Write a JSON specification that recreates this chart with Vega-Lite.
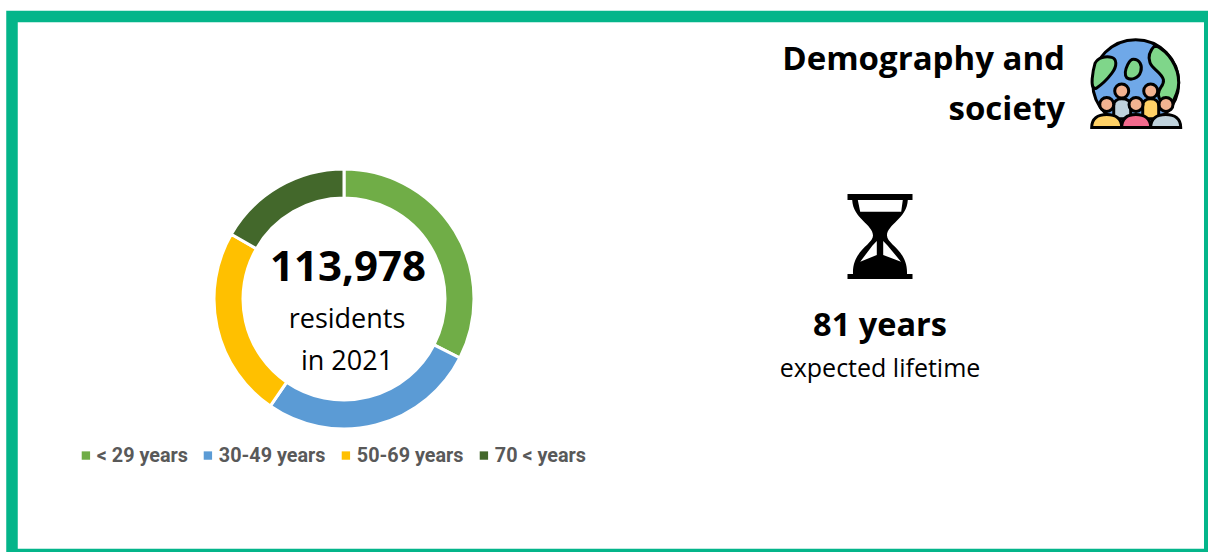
{
  "$schema": "https://vega.github.io/schema/vega-lite/v6.json",
  "width": 1197.75,
  "height": 538,
  "autosize": "none",
  "padding": {"left": 12, "top": 16.5, "right": -2, "bottom": -2.5},
  "background": "#ffffff",
  "config": {"view": {"stroke": "#04B58A", "strokeWidth": 11.5, "fill": "#ffffff"}},
  "encoding": {
    "x": {"field": "block", "type": "nominal", "axis": null, "scale": {"domain": ["population", "lifetime"], "range": [332, 868], "padding": 0}},
    "y": {"field": "block", "type": "nominal", "axis": null, "scale": {"domain": ["lifetime", "population"], "range": [220, 282.5], "padding": 0}}
  },
  "layer": [
    {
      "data": {"values": [
        {"block": "population", "age": "< 29 years", "share": 32.5, "rank": 1},
        {"block": "population", "age": "30-49 years", "share": 27.1, "rank": 2},
        {"block": "population", "age": "50-69 years", "share": 23.7, "rank": 3},
        {"block": "population", "age": "70 < years", "share": 16.7, "rank": 4}
      ]},
      "mark": {"type": "arc", "outerRadius": 130, "innerRadius": 101, "stroke": "#ffffff", "strokeWidth": 3},
      "encoding": {
        "theta": {"field": "share", "type": "quantitative", "stack": true},
        "order": {"field": "rank", "type": "ordinal"},
        "color": {
          "field": "age",
          "type": "nominal",
          "scale": {"domain": ["< 29 years", "30-49 years", "50-69 years", "70 < years"], "range": ["#70AD47", "#5B9BD5", "#FFC000", "#43682B"]},
          "legend": {
            "title": null,
            "orient": "none",
            "legendX": 64,
            "legendY": 429,
            "direction": "horizontal",
            "symbolType": "square",
            "symbolSize": 70,
            "symbolStrokeWidth": 0,
            "labelFont": "Roboto",
            "labelFontWeight": "bold",
            "labelFontSize": 19.8,
            "labelColor": "#595959",
            "columnPadding": 10,
            "labelOffset": 1
          }
        }
      }
    },
    {
      "data": {"values": [{"block": "population", "label": "113,978"}]},
      "mark": {"type": "text", "font": "Open Sans", "fontWeight": "bold", "fontSize": 42, "color": "#000000", "dx": 4, "dy": -31, "baseline": "middle", "align": "center"},
      "encoding": {"text": {"field": "label"}}
    },
    {
      "data": {"values": [{"block": "population", "label": "residents"}]},
      "mark": {"type": "text", "font": "Open Sans", "fontSize": 27, "color": "#000000", "dx": 3, "dy": 21, "baseline": "middle", "align": "center"},
      "encoding": {"text": {"field": "label"}}
    },
    {
      "data": {"values": [{"block": "population", "label": "in 2021"}]},
      "mark": {"type": "text", "font": "Open Sans", "fontSize": 27, "color": "#000000", "dx": 3, "dy": 63, "baseline": "middle", "align": "center"},
      "encoding": {"text": {"field": "label"}}
    },
    {
      "data": {"values": [{"block": "lifetime", "icon": "hourglass"}]},
      "mark": {
        "type": "point",
        "filled": true,
        "opacity": 1,
        "color": "#000000",
        "size": 4,
        "shape": "M-32.5,-42.5 H32.5 V-36.5 H27.8 C27,-18 7,-12 7,-1 C7,8 28,14 27,37.5 H32.5 V42.5 H-32.5 V37.5 H-27 C-28,14 -7,8 -7,-1 C-7,-12 -27,-18 -27.8,-36.5 H-32.5 Z M-22.2,-36.5 L-19.8,-24.8 L21.2,-24.8 L22.8,-36.5 Z M-3.2,4.5 L-7.5,9 L-19.8,25.2 L-3.2,18.5 Z M3.2,4.5 L3.2,18.5 L21,25.2 L7.5,9 Z"
      }
    },
    {
      "data": {"values": [{"block": "lifetime", "label": "81 years"}]},
      "mark": {"type": "text", "font": "Open Sans", "fontWeight": "bold", "fontSize": 32.5, "color": "#000000", "dy": 89, "baseline": "middle", "align": "center"},
      "encoding": {"text": {"field": "label"}}
    },
    {
      "data": {"values": [{"block": "lifetime", "label": "expected lifetime"}]},
      "mark": {"type": "text", "font": "Open Sans", "fontSize": 25, "color": "#000000", "dy": 132, "baseline": "middle", "align": "center"},
      "encoding": {"text": {"field": "label"}}
    },
    {
      "data": {"values": [{"block": "lifetime", "label": "Demography and"}]},
      "mark": {"type": "text", "font": "Open Sans", "fontWeight": "bold", "fontSize": 33, "color": "#000000", "dx": 185, "dy": -177, "baseline": "middle", "align": "right"},
      "encoding": {"text": {"field": "label"}}
    },
    {
      "data": {"values": [{"block": "lifetime", "label": "society"}]},
      "mark": {"type": "text", "font": "Open Sans", "fontWeight": "bold", "fontSize": 33, "color": "#000000", "dx": 185, "dy": -127, "baseline": "middle", "align": "right"},
      "encoding": {"text": {"field": "label"}}
    },
    {
      "data": {"values": [{"block": "lifetime", "icon": "globe"}]},
      "layer": [
        {"mark": {"type": "point", "filled": true, "opacity": 1, "fill": "#6FA8E8", "stroke": "#000000", "strokeWidth": 3, "size": 4, "xOffset": 255.7, "yOffset": -153.8, "shape": "M-43,0 A43,43 0 1,1 43,0 A43,43 0 1,1 -43,0 Z"}},
        {"mark": {"type": "point", "filled": true, "opacity": 1, "fill": "#7FD68A", "stroke": "#000000", "strokeWidth": 3, "size": 4, "xOffset": 255.7, "yOffset": -153.8, "shape": "M-40.7,-19.3 C-38,-25 -30,-27 -24,-25.3 C-19,-24 -18,-17 -24,-9.3 C-28,-4 -34,2 -39.7,5.7 C-43,6 -44,3 -43.5,-4 C-43,-10 -42,-15 -40.7,-19.3 Z M-2.3,-23.5 C4,-23.5 7,-17 5,-11 C3,-4 -5,-2 -9,-5 C-12,-9 -10,-14 -8,-18 C-6.5,-21 -5.5,-23.5 -2.3,-23.5 Z M19.3,-37.5 C14,-32 12,-26 14.3,-20 C16,-14 26,-10 27.7,-3 C29,3 22,5 22.7,12 C23,18 28,21 34.3,24 C40,15 43,7 43,0 C43,-16 33,-31 19.3,-37.5 Z"}},
        {"mark": {"type": "point", "filled": true, "opacity": 1, "fill": "#BFD2DC", "stroke": "#000000", "strokeWidth": 3, "size": 4, "xOffset": 255.7, "yOffset": -153.8, "shape": "M-22,36 V23 C-22,18 -18,16 -14,16 C-9,16 -5,18 -5,23 V36 Z"}},
        {"mark": {"type": "point", "filled": true, "opacity": 1, "fill": "#FFD166", "stroke": "#000000", "strokeWidth": 3, "size": 4, "xOffset": 255.7, "yOffset": -153.8, "shape": "M7,36 V23 C7,18 11,16 15,16 C19,16 23,18 23,23 V36 Z"}},
        {"mark": {"type": "point", "filled": true, "opacity": 1, "fill": "#FFD166", "stroke": "#000000", "strokeWidth": 3, "size": 4, "xOffset": 255.7, "yOffset": -153.8, "shape": "M-44,44.7 C-44,36 -38,31.7 -29,31.7 C-20,31.7 -14,36 -14,44.7 Z"}},
        {"mark": {"type": "point", "filled": true, "opacity": 1, "fill": "#F26A8D", "stroke": "#000000", "strokeWidth": 3, "size": 4, "xOffset": 255.7, "yOffset": -153.8, "shape": "M-14,44.7 C-14,36 -9,31.7 0.3,31.7 C9,31.7 15,36 15,44.7 Z"}},
        {"mark": {"type": "point", "filled": true, "opacity": 1, "fill": "#BFD2DC", "stroke": "#000000", "strokeWidth": 3, "size": 4, "xOffset": 255.7, "yOffset": -153.8, "shape": "M15,44.7 C15,36 21,31.7 30,31.7 C39,31.7 45,36 45,44.7 Z"}},
        {"mark": {"type": "point", "filled": true, "opacity": 1, "fill": "#F2B391", "stroke": "#000000", "strokeWidth": 3, "size": 4, "xOffset": 255.7, "yOffset": -153.8, "shape": "M-21,8.3 A7,7 0 1,1 -7,8.3 A7,7 0 1,1 -21,8.3 Z M8,8.3 A7,7 0 1,1 22,8.3 A7,7 0 1,1 8,8.3 Z M-36,21.7 A7,7 0 1,1 -22,21.7 A7,7 0 1,1 -36,21.7 Z M-6.7,21.7 A7,7 0 1,1 7.3,21.7 A7,7 0 1,1 -6.7,21.7 Z M23.3,21.7 A7,7 0 1,1 37.3,21.7 A7,7 0 1,1 23.3,21.7 Z"}}
      ]
    }
  ]
}
